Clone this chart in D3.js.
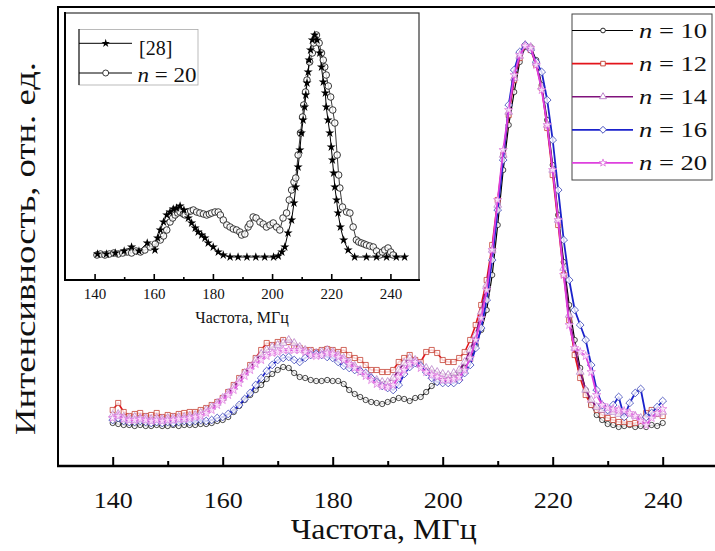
<!DOCTYPE html>
<html>
<head>
<meta charset="utf-8">
<script src="https://cdn.jsdelivr.net/npm/d3@7"></script>
<style>
  html, body { margin: 0; padding: 0; background: #fff; }
  svg { display: block; font-family: "Liberation Serif", "Times New Roman", serif; }
</style>
</head>
<body>
<svg id="chart" width="715" height="551"></svg>
<script>
// ---- main spectra: intensity (rel. units) sampled every 1 MHz, 140..240 MHz ----
const freq = d3.range(140, 241);

const n10 = [43,42,41,41,40,41,40,40,41,40, 40,41,40,41,41,41,42,42,43,45,
  46,49,54,60,66,71,76,81,87,92, 96,99,98,93,89,88,86,85,85,86,
  85,85,82,76,72,69,66,64,63,62, 64,66,68,67,65,68,69,74,80,84,
  85,86,89,93,98,106,121,136,156,191, 241,296,341,374,404,419,419,406,381,346,
  301,251,204,161,126,98,76,61,51,46, 42,41,39,40,41,39,40,39,41,40, 43];

const n12 = [56,63,54,50,52,53,50,51,53,49, 51,50,52,53,54,54,56,58,61,64,
  68,74,81,88,94,101,108,116,123,121, 124,126,124,120,118,116,116,114,116,117,
  116,114,116,111,108,106,101,96,96,94, 94,96,104,108,111,106,104,114,116,113,
  106,104,104,108,114,126,141,161,186,221, 266,311,351,386,408,420,416,401,378,338,
  291,241,191,146,111,88,71,61,56,51, 48,46,44,44,42,43,45,53,56,52, 50];

const n14 = [51,52,49,48,49,48,48,47,48,47, 48,48,49,49,50,51,53,56,59,63,
  68,73,79,86,93,99,106,112,116,119, 121,123,126,123,119,116,114,113,114,116,
  114,111,108,104,100,96,92,89,86,84, 84,88,96,103,108,106,101,98,96,94,
  92,91,93,96,104,116,131,154,181,216, 261,311,354,388,410,421,419,403,379,341,
  296,246,198,151,118,94,76,66,59,56, 54,54,52,53,52,50,48,46,50,52, 54];

const n16 = [46,48,45,44,44,45,44,43,44,43, 44,43,44,45,44,45,46,45,46,48,
  49,52,56,61,67,73,81,88,95,101, 106,108,109,106,104,108,111,112,111,109,
  108,104,100,98,96,95,93,88,84,80, 78,76,81,92,99,103,100,94,88,84,
  83,83,83,86,93,101,118,138,166,206, 256,306,361,396,414,421,416,404,394,366,
  326,276,226,186,156,141,126,101,76,61, 56,61,69,49,63,73,77,49,53,59, 65];

const n20 = [48,50,47,46,46,47,46,45,46,45, 46,46,47,47,48,49,50,53,56,61,
  66,71,76,83,90,96,102,106,110,113, 114,116,116,116,116,114,111,110,111,113,
  112,109,106,102,98,94,90,86,82,80, 79,81,89,96,102,104,98,94,91,89,
  86,86,87,89,96,108,126,148,176,216, 266,316,356,391,411,420,418,401,376,341,
  296,246,191,141,118,114,110,94,71,61, 58,57,56,55,53,50,45,41,48,53, 57];

const seriesLabels = ["10", "12", "14", "16", "20"];
const mainTicks = [140, 160, 180, 200, 220, 240];
const mainMinorTicks = [150, 170, 190, 210, 230];

// ---- inset: reference spectrum [28] and n = 20 ----
const refFreq = [141,144,147,150,152.5,155,157.8,160.4,161.3,162.2,
  163.3,164.4,165.5,166.6,167.7,168.9,170.2,171.7,172.8,174,
  175,176.2,177.3,178.4,180.1,181.8,183.5,185.8,188.5,191.5,
  194.5,197.5,200.5,202.1,203.3,204.3,205.4,206.6,207.4,208,
  208.8,209.4,209.9,210.5,211,211.4,211.8,212.2,212.5,213,
  213.6,214.4,215.2,216.1,216.7,217.3,218,218.3,218.9,219.5,
  220,220.4,220.8,221.2,221.8,222.3,223.1,224.2,225.7,227.9,
  231.9,235.3,238.7,242,244.8];
const refVal = [26,26,27,29,33,29,37,30,42,50,
  58,65,68,71,72,74,70,62,57,52,
  48,45,42,37,33,28,25,23,23,23,
  23,23,23,24,28,33,47,60,77,93,
  113,130,147,160,173,185,197,208,220,230,
  240,245,240,227,213,198,187,173,160,147,
  133,120,107,93,80,67,53,40,30,23,
  23,23,23,23,23];

const insetFreq = [140.8,142,143.5,145,146.5,148,149.5,151,152.5,154,
  155.5,157,158.8,160.5,162.2,163.3,164.4,165.5,166.4,167.2,
  168.1,168.9,170,170.6,171.5,172.5,173.4,174.5,175.6,176.8,
  177.9,178.8,179.6,180.7,181.8,182.5,183.5,184.7,185.8,186.9,
  188,189.1,189.7,190.8,191.9,192.5,193.6,194.6,195.9,197,
  198.1,199.3,200.4,201.5,202.6,203.7,204.9,205.8,206.6,207.4,
  208,208.8,209.6,210.3,210.7,211.3,211.8,212.7,213.6,214.1,
  215,215.9,216.7,217.3,217.8,218.3,219,219.8,220.5,221.2,
  222,222.5,222.9,223.8,225.2,226.3,227.4,228.5,229.3,230.2,
  231.1,231.9,233,234.2,235.3,236.4,237.3,238.1,239.2,240.1,240.9];
const insetVal = [25,26,25,26,27,26,27,28,27,29,
  28,30,33,36,40,44,50,58,62,65,
  67,68,66,65,68,69,70,68,67,66,
  65,66,67,68,68,65,60,55,53,51,
  50,48,45,46,53,56,63,62,58,56,
  53,55,57,53,50,62,67,80,90,98,
  102,125,147,163,175,188,200,218,227,237,
  245,237,227,220,213,205,194,183,170,157,
  125,105,92,73,68,67,53,40,38,37,
  36,35,34,33,29,25,28,30,32,28,25];

const insetTicks = [140, 160, 180, 200, 220, 240];
const insetMinorTicks = [150, 170, 190, 210, 230];
const insetLegend = ["[28]", "20"];

// ---------------------------------------------------------------
const svg = d3.select("#chart");
const W = 715, H = 551;
svg.append("rect").attr("width", W).attr("height", H).attr("fill", "#fff");

// main scales
const x = d3.scaleLinear().domain([130, 250]).range([57.7, 717.7]);
const y = d3.scaleLinear().domain([0, 459]).range([466, 7]);

const styles = [
  { values: n10, line: "#000000", lw: 1.2, sym: d3.symbolCircle,   size: 22, rot: 0,  ms: "#111111" },
  { values: n12, line: "#e3141b", lw: 1.6, sym: d3.symbolSquare,   size: 26, rot: 0,  ms: "#c23a2c" },
  { values: n14, line: "#80127c", lw: 1.6, sym: d3.symbolTriangle, size: 26, rot: 0,  ms: "#b77bc6" },
  { values: n16, line: "#1b22cc", lw: 1.8, sym: d3.symbolSquare,   size: 30, rot: 45, ms: "#3b45b9" },
  { values: n20, line: "#de40de", lw: 1.8, sym: d3.symbolStar,     size: 22, rot: 0,  ms: "#e07ae0" }
];

// axes frame
svg.append("line").attr("x1", 58).attr("x2", 58).attr("y1", 6).attr("y2", 467)
  .attr("stroke", "#000").attr("stroke-width", 2);
svg.append("line").attr("x1", 57).attr("x2", W).attr("y1", 7).attr("y2", 7)
  .attr("stroke", "#000").attr("stroke-width", 2);

// spectra
const mainPlot = svg.append("g");
styles.forEach(s => {
  const pts = freq.map((f, i) => [f, s.values[i]]);
  const line = d3.line().x(d => x(d[0])).y(d => y(d[1]));
  const g = mainPlot.append("g");
  g.append("path").attr("d", line(pts)).attr("fill", "none")
    .attr("stroke", s.line).attr("stroke-width", s.lw).attr("stroke-linejoin", "round");
  g.selectAll("path.m").data(pts).join("path").attr("class", "m")
    .attr("d", d3.symbol().type(s.sym).size(s.size))
    .attr("transform", d => `translate(${x(d[0])},${y(d[1])}) rotate(${s.rot})`)
    .attr("fill", "#fff").attr("fill-opacity", 0.8)
    .attr("stroke", s.ms).attr("stroke-width", 0.85).attr("stroke-opacity", 0.9);
});

// bottom axis
const xAxis = d3.axisBottom(x).tickValues(mainTicks).tickSizeInner(-9).tickSizeOuter(0)
  .tickPadding(26).tickFormat(d3.format("d"));
const gx = svg.append("g").attr("transform", "translate(0,466)").call(xAxis);
gx.select(".domain").remove();
gx.attr("font-size", null).attr("font-family", null);
gx.selectAll(".tick line").attr("stroke", "#000").attr("stroke-width", 2);
gx.selectAll(".tick text").attr("fill", "#111").style("font-size", "23px")
  .attr("textLength", 39).attr("lengthAdjust", "spacingAndGlyphs");
const gxm = svg.append("g").attr("transform", "translate(0,466)")
  .call(d3.axisBottom(x).tickValues(mainMinorTicks).tickSizeInner(-5).tickSizeOuter(0).tickFormat(""));
gxm.select(".domain").remove();
gxm.selectAll(".tick line").attr("stroke", "#000").attr("stroke-width", 2);
svg.append("line").attr("x1", 57).attr("x2", W).attr("y1", 466).attr("y2", 466)
  .attr("stroke", "#000").attr("stroke-width", 2.5);

// axis titles
svg.append("text").attr("x", 383.7).attr("y", 539).attr("text-anchor", "middle")
  .style("font-size", "29px").attr("fill", "#111")
  .attr("textLength", 186).attr("lengthAdjust", "spacingAndGlyphs")
  .text("Частота, МГц");
svg.append("text").attr("transform", "translate(35,248.5) rotate(-90)")
  .attr("text-anchor", "middle").style("font-size", "30px").attr("fill", "#111")
  .attr("textLength", 373).attr("lengthAdjust", "spacingAndGlyphs")
  .text("Интенсивность, отн. ед.");

// main legend
const lg = svg.append("g");
lg.append("rect").attr("x", 572).attr("y", 14).attr("width", 140).attr("height", 166)
  .attr("fill", "#fff").attr("stroke", "#444").attr("stroke-width", 1);
styles.forEach((s, i) => {
  const ly = 30.5 + i * 33.1;
  lg.append("line").attr("x1", 572).attr("x2", 633).attr("y1", ly).attr("y2", ly)
    .attr("stroke", s.line).attr("stroke-width", s.lw);
  lg.append("path").attr("d", d3.symbol().type(s.sym).size(s.size * 0.8))
    .attr("transform", `translate(603,${ly}) rotate(${s.rot})`)
    .attr("fill", "#fff").attr("stroke", s.ms).attr("stroke-width", 0.9);
  const t = lg.append("text").attr("x", 639).attr("y", ly + 7.5).style("font-size", "22px")
    .attr("fill", "#111").attr("textLength", 68).attr("lengthAdjust", "spacingAndGlyphs");
  t.append("tspan").attr("font-style", "italic").text("n");
  t.append("tspan").text(" = " + seriesLabels[i]);
});

// ---------------- inset ----------------
const ix = d3.scaleLinear().domain([130, 250]).range([65, 420]);
const iy = d3.scaleLinear().domain([0, 267]).range([280, 13]);
const inset = svg.append("g");
inset.append("rect").attr("x", 65).attr("y", 13).attr("width", 354).attr("height", 267)
  .attr("fill", "#fff").attr("stroke", "#333").attr("stroke-width", 1.2);
inset.append("line").attr("x1", 65).attr("x2", 65).attr("y1", 12).attr("y2", 281)
  .attr("stroke", "#000").attr("stroke-width", 2);

const iline = d3.line().x(d => ix(d[0])).y(d => iy(d[1]));
const refPts = refFreq.map((f, i) => [f, refVal[i]]);
const insPts = insetFreq.map((f, i) => [f, insetVal[i]]);

inset.append("path").attr("d", iline(insPts)).attr("fill", "none")
  .attr("stroke", "#222").attr("stroke-width", 0.9);
inset.append("path").attr("d", iline(refPts)).attr("fill", "none")
  .attr("stroke", "#000").attr("stroke-width", 1);
inset.selectAll("circle.ic").data(insPts).join("circle").attr("class", "ic")
  .attr("cx", d => ix(d[0])).attr("cy", d => iy(d[1])).attr("r", 3.3)
  .attr("fill", "#fff").attr("fill-opacity", 0.8).attr("stroke", "#222").attr("stroke-width", 0.9);
inset.selectAll("path.is").data(refPts).join("path").attr("class", "is")
  .attr("d", d3.symbol().type(d3.symbolStar).size(26))
  .attr("transform", d => `translate(${ix(d[0])},${iy(d[1])})`)
  .attr("fill", "#000");

const iax = d3.axisBottom(ix).tickValues(insetTicks).tickSizeInner(-6).tickSizeOuter(0)
  .tickPadding(8.5).tickFormat(d3.format("d"));
const gix = inset.append("g").attr("transform", "translate(0,280)").call(iax);
gix.select(".domain").remove();
gix.attr("font-size", null).attr("font-family", null);
gix.selectAll(".tick line").attr("stroke", "#000").attr("stroke-width", 1.6);
gix.selectAll(".tick text").attr("fill", "#111").style("font-size", "15px");
const gixm = inset.append("g").attr("transform", "translate(0,280)")
  .call(d3.axisBottom(ix).tickValues(insetMinorTicks).tickSizeInner(-3).tickSizeOuter(0).tickFormat(""));
gixm.select(".domain").remove();
gixm.selectAll(".tick line").attr("stroke", "#000").attr("stroke-width", 1.6);
inset.append("line").attr("x1", 64).attr("x2", 420).attr("y1", 280).attr("y2", 280)
  .attr("stroke", "#000").attr("stroke-width", 2);
inset.append("text").attr("x", 242).attr("y", 323).attr("text-anchor", "middle")
  .style("font-size", "16px").attr("fill", "#111").text("Частота, МГц");

// inset legend
const il = inset.append("g");
il.append("rect").attr("x", 79).attr("y", 29.5).attr("width", 119).attr("height", 55.5)
  .attr("fill", "#fff").attr("stroke", "#aaa").attr("stroke-width", 0.8);
il.append("line").attr("x1", 79).attr("x2", 79).attr("y1", 29).attr("y2", 85)
  .attr("stroke", "#222").attr("stroke-width", 1.2);
[43.3, 73].forEach((ly, i) => {
  il.append("line").attr("x1", 79).attr("x2", 132).attr("y1", ly).attr("y2", ly)
    .attr("stroke", "#000").attr("stroke-width", 1);
  if (i === 0) {
    il.append("path").attr("d", d3.symbol().type(d3.symbolStar).size(22))
      .attr("transform", `translate(105.7,${ly})`).attr("fill", "#000");
  } else {
    il.append("circle").attr("cx", 105.7).attr("cy", ly).attr("r", 3)
      .attr("fill", "#fff").attr("stroke", "#222").attr("stroke-width", 0.9);
  }
});
il.append("text").attr("x", 139).attr("y", 55).style("font-size", "20px").attr("fill", "#111")
  .text(insetLegend[0]);
const it2 = il.append("text").attr("x", 137.5).attr("y", 81.5).style("font-size", "20px")
  .attr("fill", "#111").attr("textLength", 59).attr("lengthAdjust", "spacingAndGlyphs");
it2.append("tspan").attr("font-style", "italic").text("n");
it2.append("tspan").text(" = " + insetLegend[1]);
</script>
</body>
</html>
